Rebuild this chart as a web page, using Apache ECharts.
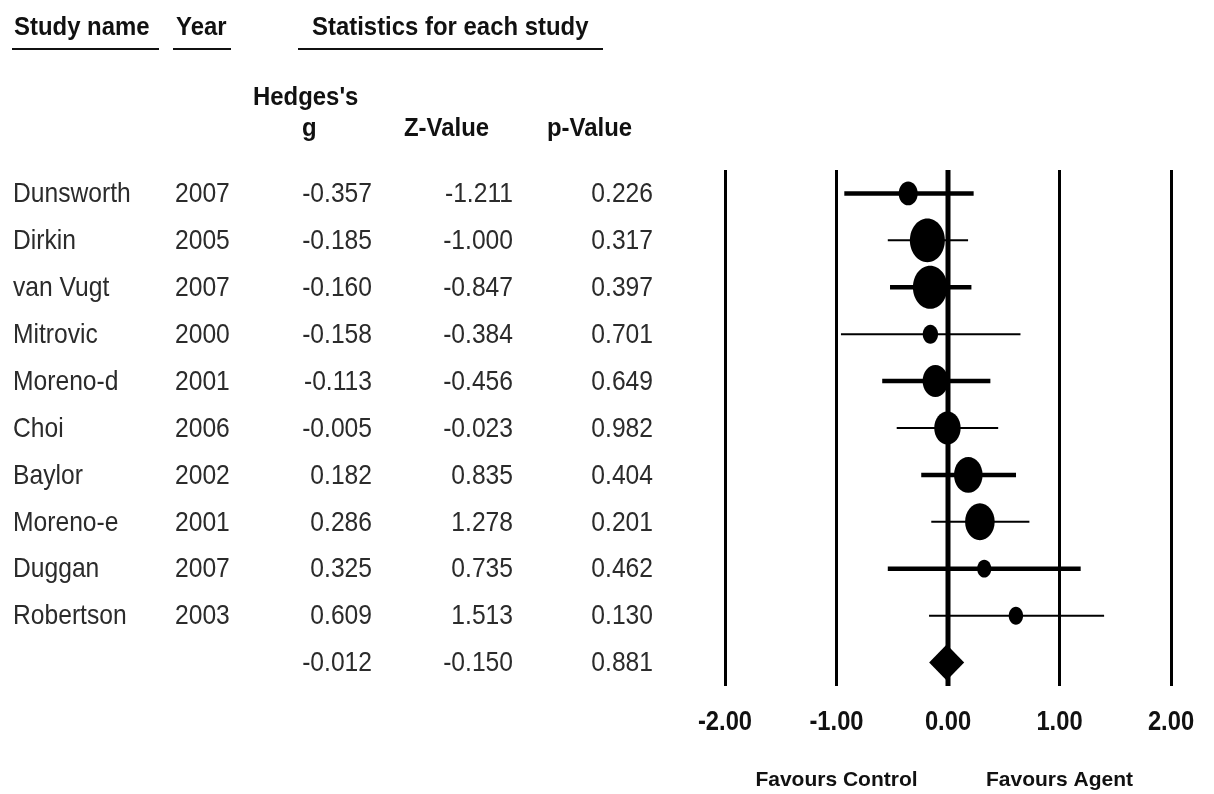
<!DOCTYPE html>
<html><head><meta charset="utf-8">
<script src="https://cdn.jsdelivr.net/npm/echarts@6/dist/echarts.min.js"></script>
<style>html,body{margin:0;padding:0;background:#fff;} #c{width:1214px;height:794px;}</style>
</head><body><div id="c"></div>
<script>
// ---- data ----
const studies = ['Dunsworth','Dirkin','van Vugt','Mitrovic','Moreno-d','Choi','Baylor','Moreno-e','Duggan','Robertson'];
const years = ['2007','2005','2007','2000','2001','2006','2002','2001','2007','2003'];
const hedgesG = [-0.357,-0.185,-0.160,-0.158,-0.113,-0.005,0.182,0.286,0.325,0.609];
const zValues = [-1.211,-1.000,-0.847,-0.384,-0.456,-0.023,0.835,1.278,0.735,1.513];
const pValues = [0.226,0.317,0.397,0.701,0.649,0.982,0.404,0.201,0.462,0.130];
const lowerCI = [-0.93,-0.54,-0.52,-0.96,-0.59,-0.46,-0.24,-0.15,-0.54,-0.17];
const upperCI = [0.23,0.18,0.21,0.65,0.38,0.45,0.61,0.73,1.19,1.40];
const relWeight = [5.6,18.9,18.4,3.6,10.1,10.8,12.6,13.5,3.1,3.2];
const summaryG = -0.012, summaryZ = -0.150, summaryP = 0.881;
const summaryLower = -0.169, summaryUpper = 0.145;
const xTicks = [-2,-1,0,1,2];
const favourLabels = ['Favours Control','Favours Agent'];
const favourAt = [-1, 1];
const headerTop = ['Study name','Year','Statistics for each study'];
const headerSub = ['Hedges\'s','g','Z-Value','p-Value'];

// ---- layout / style ----
const FONT = '"Liberation Sans",Arial,sans-serif';
const ROW_FS = 28, ROW_SX = 0.88;
const HEAD_FS = 26, HEAD_SX = 0.92;
const rowCats = studies.concat(['Summary']);
const fmt = v => v.toFixed(3);

const chart = echarts.init(document.getElementById('c'), null, {renderer:'canvas'});

const tableRows = rowCats.map((c, i) => i < studies.length
  ? [0, i, studies[i], years[i], fmt(hedgesG[i]), fmt(zValues[i]), fmt(pValues[i])]
  : [0, i, '', '', fmt(summaryG), fmt(summaryZ), fmt(summaryP)]);

function stxt(text, x, y, align, fs, weight, sx, fill) {
  return {type:'text', x:x, y:y, scaleX:sx, scaleY:1,
    style:{text:text, x:0, y:0, align:align, verticalAlign:'middle',
      fill:fill, fontSize:fs, fontFamily:FONT, fontWeight:weight}};
}
function head(text, x, y) { return stxt(text, x, y, 'left', HEAD_FS, 'bold', HEAD_SX, '#111'); }
function rowT(text, x, y, align) { return stxt(text, x, y, align, ROW_FS, 'normal', ROW_SX, '#2b2b2b'); }

const option = {
  animation:false,
  backgroundColor:'#fff',
  grid:{left:725, right:43, top:170, bottom:108, containLabel:false},
  xAxis:{type:'value', min:-2, max:2, interval:1,
    axisLine:{show:false}, axisTick:{show:false}, axisLabel:{show:false},
    splitLine:{show:true, lineStyle:{color:'#000', width:3}}},
  yAxis:{type:'category', inverse:true, data:rowCats, show:false, boundaryGap:true},
  graphic:[
    head(headerTop[0], 14, 28),
    head(headerTop[1], 176, 28),
    head(headerTop[2], 312, 28),
    {type:'line', shape:{x1:12,y1:49,x2:159,y2:49}, style:{stroke:'#111', lineWidth:2}},
    {type:'line', shape:{x1:173,y1:49,x2:231,y2:49}, style:{stroke:'#111', lineWidth:2}},
    {type:'line', shape:{x1:298,y1:49,x2:603,y2:49}, style:{stroke:'#111', lineWidth:2}},
    head(headerSub[0], 253, 98),
    head(headerSub[1], 302, 129),
    head(headerSub[2], 404, 129),
    head(headerSub[3], 547, 129)
  ],
  series:[
    { // zero line
      type:'custom', coordinateSystem:'cartesian2d', silent:true, clip:false,
      data:[[0,0]], encode:{x:0, y:1},
      renderItem:(params, api) => {
        const x = api.coord([0, 0])[0];
        const band = api.size([0, 1])[1];
        const top = api.coord([0, 0])[1] - band/2;
        const bot = api.coord([0, rowCats.length-1])[1] + band/2;
        return {type:'line', shape:{x1:x, y1:top, x2:x, y2:bot}, style:{stroke:'#000', lineWidth:5}};
      }
    },
    { // study CIs + markers
      type:'custom', coordinateSystem:'cartesian2d', silent:true, clip:false,
      data:studies.map((s,i) => [lowerCI[i], upperCI[i], i, hedgesG[i], relWeight[i]]),
      encode:{x:[0,1,3], y:2},
      renderItem:(params, api) => {
        const i = api.value(2);
        const a = api.coord([api.value(0), i]);
        const b = api.coord([api.value(1), i]);
        const c = api.coord([api.value(3), i]);
        const w = Math.sqrt(api.value(4) * 81 / 1.25);
        const h = w * 1.25;
        const lw = (i % 2 === 0) ? 4.5 : 2;
        return {type:'group', children:[
          {type:'line', shape:{x1:a[0], y1:a[1], x2:b[0], y2:b[1]}, style:{stroke:'#000', lineWidth:lw}},
          {type:'ellipse', shape:{cx:c[0], cy:c[1], rx:w/2, ry:h/2}, style:{fill:'#000'}}
        ]};
      }
    },
    { // summary diamond
      type:'custom', coordinateSystem:'cartesian2d', silent:true, clip:false,
      data:[[summaryLower, summaryUpper, studies.length, summaryG]],
      encode:{x:[0,1,3], y:2},
      renderItem:(params, api) => {
        const i = api.value(2);
        const a = api.coord([api.value(0), i]);
        const b = api.coord([api.value(1), i]);
        const c = api.coord([api.value(3), i]);
        const hh = 18;
        return {type:'polygon', shape:{points:[[a[0],c[1]],[c[0],c[1]-hh],[b[0],c[1]],[c[0],c[1]+hh]]}, style:{fill:'#000'}};
      }
    },
    { // table text
      type:'custom', coordinateSystem:'cartesian2d', silent:true, clip:false,
      data:tableRows, encode:{x:0, y:1},
      renderItem:(params, api) => {
        const i = api.value(1);
        const y = api.coord([0, i])[1] + 1;
        const r = tableRows[params.dataIndex];
        return {type:'group', children:[
          rowT(r[2], 13, y, 'left'),
          rowT(r[3], 175, y, 'left'),
          rowT(r[4], 372, y, 'right'),
          rowT(r[5], 513, y, 'right'),
          rowT(r[6], 653, y, 'right')
        ]};
      }
    },
    { // x tick labels
      type:'custom', coordinateSystem:'cartesian2d', silent:true, clip:false,
      data:xTicks.map(v => [v, rowCats.length-1]), encode:{x:0, y:1},
      renderItem:(params, api) => {
        const p = api.coord([api.value(0), api.value(1)]);
        const band = api.size([0, 1])[1];
        return stxt(api.value(0).toFixed(2), p[0], p[1] + band/2 + 37, 'center', 27, 'bold', 0.88, '#111');
      }
    },
    { // favours labels
      type:'custom', coordinateSystem:'cartesian2d', silent:true, clip:false,
      data:favourAt.map((v,k) => [v, rowCats.length-1, k]), encode:{x:0, y:1},
      renderItem:(params, api) => {
        const p = api.coord([api.value(0), api.value(1)]);
        const band = api.size([0, 1])[1];
        return stxt(favourLabels[api.value(2)], p[0], p[1] + band/2 + 94, 'center', 21, 'bold', 1, '#111');
      }
    }
  ]
};
chart.setOption(option);
</script>
</body></html>
